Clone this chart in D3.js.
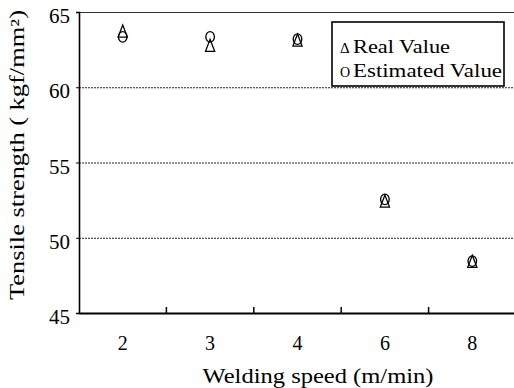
<!DOCTYPE html>
<html>
<head>
<meta charset="utf-8">
<script src="https://cdn.jsdelivr.net/npm/d3@7"></script>
<style>
  body { margin: 0; background: #fff; }
  svg { display: block; }
  text { font-family: "Liberation Serif", serif; fill: #000; }
</style>
</head>
<body>
<div id="chart"></div>
<script>
// Data
const speeds = ['2', '3', '4', '6', '8'];
const realValues = [63.7, 62.75, 63.1, 52.4, 48.4];
const estimatedValues = [63.35, 63.35, 63.2, 52.55, 48.45];
const yTicks = [45, 50, 55, 60, 65];
const gridValues = [50, 55, 60];

const W = 514, H = 388;
const margin = { top: 12, right: -2, bottom: 75, left: 79 };
const width = W - margin.left - margin.right;
const height = H - margin.top - margin.bottom;

const svg = d3.select('#chart')
    .append('svg')
    .attr('width', W)
    .attr('height', H);

const g = svg.append('g')
    .attr('transform', `translate(${margin.left},${margin.top})`);

// Scales
const x = d3.scaleBand()
    .domain(speeds)
    .range([0, width]);

const y = d3.scaleLinear()
    .domain([45, 65])
    .range([height, 0]);

// Dotted gridlines
g.selectAll('.grid')
    .data(gridValues)
    .enter()
    .append('line')
    .attr('class', 'grid')
    .attr('x1', 0)
    .attr('x2', width)
    .attr('y1', d => y(d) + 0.5)
    .attr('y2', d => y(d) + 0.5)
    .attr('stroke', '#222')
    .attr('stroke-width', 1)
    .attr('stroke-dasharray', '2,1');

// Top frame line
g.append('line')
    .attr('x1', 0)
    .attr('x2', width)
    .attr('y1', 0.5)
    .attr('y2', 0.5)
    .attr('stroke', '#333')
    .attr('stroke-width', 1.2);

// Y axis
const yAxis = d3.axisLeft(y)
    .tickValues(yTicks)
    .tickSize(3)
    .tickPadding(6)
    .tickFormat(d3.format('d'));

const yg = g.append('g').call(yAxis);
yg.select('.domain').attr('stroke', '#000').attr('stroke-width', 1.6);
yg.selectAll('.tick line').attr('stroke', '#000');
yg.selectAll('.tick text')
    .attr('font-size', 21)
    .attr('dy', '0.5em')
    .style('font-family', '"Liberation Serif", serif');

// X axis: labels at band centres, small inward ticks at band boundaries
const xAxis = d3.axisBottom(x)
    .tickSize(0)
    .tickPadding(23);

const xg = g.append('g')
    .attr('transform', `translate(0,${height})`)
    .call(xAxis);
xg.select('.domain').attr('stroke', '#000').attr('stroke-width', 2.2);
xg.selectAll('.tick text')
    .attr('font-size', 20)
    .style('font-family', '"Liberation Serif", serif');

g.selectAll('.xtick')
    .data(speeds.slice(1))
    .enter()
    .append('line')
    .attr('class', 'xtick')
    .attr('x1', d => x(d))
    .attr('x2', d => x(d))
    .attr('y1', height)
    .attr('y2', height - 6)
    .attr('stroke', '#000')
    .attr('stroke-width', 1.5);

// Markers
const tri = 'M0,-6.5L4.6,5.5L-4.6,5.5Z';

g.selectAll('.real')
    .data(speeds)
    .enter()
    .append('path')
    .attr('class', 'real')
    .attr('d', tri)
    .attr('transform', (d, i) => `translate(${x(d) + x.bandwidth() / 2},${y(realValues[i])})`)
    .attr('fill', 'none')
    .attr('stroke', '#000')
    .attr('stroke-width', 1.3);

g.selectAll('.est')
    .data(speeds)
    .enter()
    .append('ellipse')
    .attr('class', 'est')
    .attr('cx', d => x(d) + x.bandwidth() / 2)
    .attr('cy', (d, i) => y(estimatedValues[i]))
    .attr('rx', 4.3)
    .attr('ry', 5.3)
    .attr('fill', 'none')
    .attr('stroke', '#000')
    .attr('stroke-width', 1.3);

// Legend
const legend = svg.append('g').attr('transform', 'translate(332,22)');

legend.append('rect')
    .attr('width', 172)
    .attr('height', 64)
    .attr('fill', '#fff')
    .attr('stroke', '#000')
    .attr('stroke-width', 1.6);

legend.append('text')
    .attr('x', 8)
    .attr('y', 31)
    .attr('font-size', 15)
    .text('Δ');

legend.append('text')
    .attr('x', 21)
    .attr('y', 31)
    .attr('font-size', 19)
    .attr('textLength', 97)
    .attr('lengthAdjust', 'spacingAndGlyphs')
    .text('Real Value');

legend.append('text')
    .attr('x', 8)
    .attr('y', 55)
    .attr('font-size', 14)
    .text('O');

legend.append('text')
    .attr('x', 21)
    .attr('y', 55)
    .attr('font-size', 19)
    .attr('textLength', 149)
    .attr('lengthAdjust', 'spacingAndGlyphs')
    .text('Estimated Value');

// Axis titles
svg.append('text')
    .attr('x', 318)
    .attr('y', 383)
    .attr('text-anchor', 'middle')
    .attr('font-size', 20)
    .attr('textLength', 231)
    .attr('lengthAdjust', 'spacingAndGlyphs')
    .text('Welding speed (m/min)');

svg.append('text')
    .attr('transform', 'translate(24,155) rotate(-90)')
    .attr('text-anchor', 'middle')
    .attr('font-size', 20)
    .attr('textLength', 290)
    .attr('lengthAdjust', 'spacingAndGlyphs')
    .text('Tensile strength ( kgf/mm²)');
</script>
</body>
</html>
